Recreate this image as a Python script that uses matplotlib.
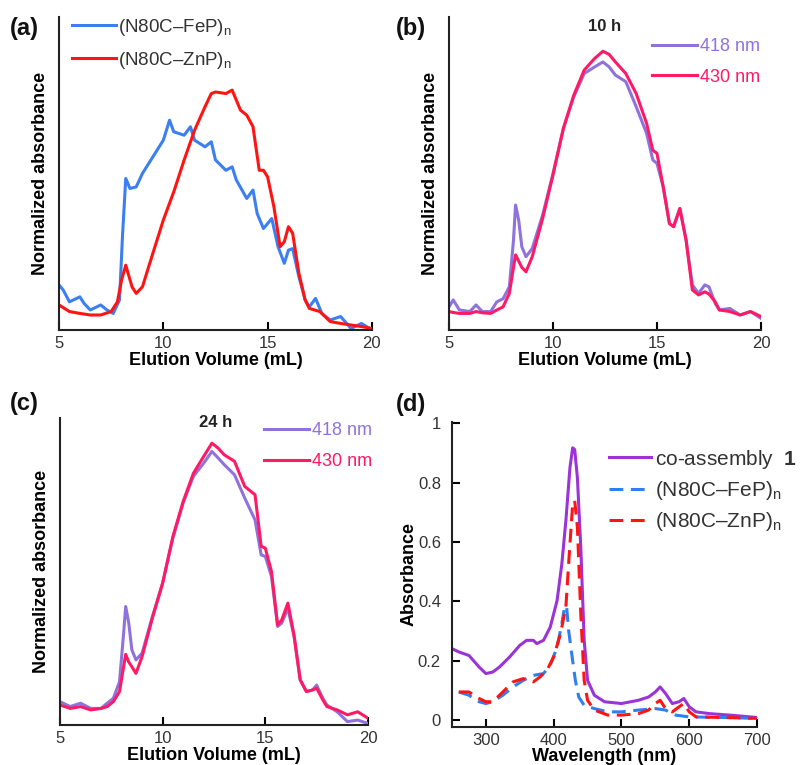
import matplotlib
matplotlib.use('Agg')
import matplotlib.pyplot as plt

plt.rcParams['font.family'] = ['Liberation Sans', 'DejaVu Sans']
plt.rcParams['mathtext.fontset'] = 'custom'
plt.rcParams['mathtext.rm'] = 'Liberation Sans'
plt.rcParams['mathtext.bf'] = 'Liberation Sans:bold'

# (a) SEC traces of the homo-assemblies
a_fe_x = [5.0, 5.2, 5.5, 6.0, 6.2, 6.5, 7.0, 7.3, 7.6, 7.9, 8.05, 8.2, 8.4, 8.7, 9.0, 9.5,
          10.0, 10.3, 10.5, 11.0, 11.3, 11.5, 12.0, 12.3, 12.5, 13.0, 13.3, 13.5, 14.0, 14.3,
          14.5, 14.8, 15.0, 15.2, 15.5, 15.8, 16.0, 16.2, 16.5, 16.8, 17.0, 17.3, 17.6, 18.0,
          18.5, 19.0, 19.5, 20.0]
a_fe_y = [0.144, 0.128, 0.09, 0.106, 0.085, 0.064, 0.08, 0.064, 0.053, 0.096, 0.309, 0.484,
          0.452, 0.457, 0.5, 0.553, 0.606, 0.67, 0.633, 0.622, 0.649, 0.606, 0.585, 0.601,
          0.543, 0.51, 0.521, 0.479, 0.42, 0.447, 0.372, 0.324, 0.34, 0.356, 0.266, 0.213,
          0.255, 0.26, 0.17, 0.096, 0.074, 0.101, 0.053, 0.032, 0.043, 0.005, 0.021, 0.0]
a_zn_x = [5.0, 5.5, 6.0, 6.5, 7.0, 7.5, 7.8, 8.0, 8.2, 8.5, 8.7, 9.0, 9.5, 10.0, 10.5, 11.0,
          11.5, 12.0, 12.3, 12.5, 13.0, 13.3, 13.7, 14.0, 14.3, 14.6, 14.8, 15.0, 15.3, 15.6,
          15.8, 16.0, 16.2, 16.5, 16.8, 17.0, 17.5, 18.0, 18.5, 19.0, 19.5, 20.0]
a_zn_y = [0.08, 0.059, 0.053, 0.048, 0.048, 0.059, 0.09, 0.16, 0.207, 0.138, 0.117, 0.138,
          0.245, 0.351, 0.441, 0.543, 0.638, 0.713, 0.755, 0.76, 0.755, 0.766, 0.702, 0.686,
          0.649, 0.51, 0.51, 0.489, 0.394, 0.266, 0.282, 0.33, 0.309, 0.181, 0.096, 0.069,
          0.059, 0.027, 0.021, 0.016, 0.011, 0.005]

# (b) 10 h co-assembly
b_x = [5.0, 5.2, 5.5, 6.0, 6.3, 6.6, 7.0, 7.3, 7.6, 7.9, 8.1, 8.2, 8.35, 8.5, 8.7, 9.0, 9.5,
       10.0, 10.5, 11.0, 11.5, 12.0, 12.4, 12.7, 13.0, 13.5, 14.0, 14.5, 14.8, 15.0, 15.3,
       15.6, 15.8, 16.1, 16.4, 16.7, 17.0, 17.3, 17.5, 17.8, 18.0, 18.5, 19.0, 19.5, 20.0]
b_418 = [0.074, 0.096, 0.064, 0.059, 0.08, 0.059, 0.059, 0.09, 0.1, 0.138, 0.287, 0.399,
         0.351, 0.266, 0.234, 0.26, 0.367, 0.5, 0.644, 0.745, 0.819, 0.84, 0.856, 0.84,
         0.814, 0.793, 0.713, 0.628, 0.543, 0.532, 0.457, 0.34, 0.33, 0.388, 0.287, 0.144,
         0.117, 0.144, 0.138, 0.085, 0.064, 0.069, 0.048, 0.059, 0.037]
b_430 = [0.059, 0.056, 0.053, 0.053, 0.059, 0.055, 0.053, 0.064, 0.074, 0.117, 0.2, 0.24,
         0.22, 0.2, 0.186, 0.234, 0.356, 0.495, 0.644, 0.75, 0.83, 0.867, 0.89, 0.88, 0.856,
         0.819, 0.755, 0.66, 0.574, 0.564, 0.457, 0.34, 0.33, 0.388, 0.287, 0.128, 0.112,
         0.122, 0.115, 0.09, 0.064, 0.059, 0.048, 0.059, 0.043]

# (c) 24 h co-assembly
c_x = [5.0, 5.5, 6.0, 6.5, 7.0, 7.3, 7.6, 7.9, 8.1, 8.2, 8.35, 8.5, 8.7, 9.0, 9.5, 10.0, 10.5,
       11.0, 11.5, 12.0, 12.4, 12.7, 13.0, 13.5, 14.0, 14.5, 14.8, 15.0, 15.3, 15.6, 15.8,
       16.1, 16.4, 16.7, 17.0, 17.3, 17.5, 17.8, 18.0, 18.5, 19.0, 19.5, 20.0]
c_418 = [0.076, 0.06, 0.071, 0.054, 0.054, 0.071, 0.087, 0.141, 0.299, 0.386, 0.332, 0.245,
         0.212, 0.234, 0.353, 0.462, 0.609, 0.723, 0.81, 0.853, 0.891, 0.87, 0.848, 0.815,
         0.739, 0.668, 0.554, 0.549, 0.484, 0.321, 0.332, 0.38, 0.288, 0.147, 0.109, 0.114,
         0.13, 0.087, 0.065, 0.043, 0.011, 0.016, 0.005]
c_430 = [0.065, 0.054, 0.06, 0.049, 0.054, 0.06, 0.076, 0.109, 0.19, 0.23, 0.205, 0.19,
         0.168, 0.223, 0.348, 0.462, 0.614, 0.728, 0.82, 0.875, 0.918, 0.902, 0.88, 0.859,
         0.777, 0.75, 0.582, 0.576, 0.5, 0.326, 0.342, 0.397, 0.293, 0.147, 0.109, 0.114,
         0.12, 0.082, 0.06, 0.049, 0.033, 0.043, 0.022]

# (d) UV-vis spectra
d_co_x = [250, 260, 275, 290, 300, 310, 320, 335, 350, 360, 370, 375, 385, 395, 405, 412,
          418, 424, 428, 431, 435, 440, 445, 450, 460, 475, 500, 525, 540, 550, 557, 565,
          575, 585, 592, 600, 610, 630, 660, 700]
d_co_y = [0.241, 0.23, 0.218, 0.179, 0.157, 0.162, 0.179, 0.213, 0.252, 0.269, 0.269, 0.258,
          0.269, 0.314, 0.403, 0.526, 0.672, 0.851, 0.918, 0.912, 0.817, 0.582, 0.269, 0.134,
          0.084, 0.062, 0.056, 0.067, 0.078, 0.095, 0.112, 0.09, 0.056, 0.062, 0.073, 0.045,
          0.028, 0.022, 0.017, 0.009]
d_fe_x = [260, 275, 290, 300, 310, 325, 340, 355, 370, 385, 395, 405, 412, 416, 419, 422,
          428, 432, 437, 445, 460, 480, 500, 525, 550, 565, 580, 600, 650, 700]
d_fe_y = [0.095, 0.084, 0.062, 0.056, 0.062, 0.084, 0.112, 0.134, 0.151, 0.157, 0.185, 0.246,
          0.325, 0.381, 0.385, 0.303, 0.2, 0.134, 0.078, 0.05, 0.039, 0.028, 0.028, 0.034,
          0.039, 0.034, 0.017, 0.011, 0.009, 0.006]
d_zn_x = [260, 275, 290, 300, 310, 325, 340, 355, 370, 380, 390, 400, 410, 418, 423, 428,
          431, 435, 440, 445, 450, 460, 480, 500, 525, 540, 550, 557, 565, 575, 585, 592,
          600, 610, 650, 700]
d_zn_y = [0.095, 0.095, 0.073, 0.062, 0.062, 0.095, 0.129, 0.14, 0.129, 0.146, 0.168, 0.213,
          0.291, 0.381, 0.56, 0.728, 0.74, 0.65, 0.358, 0.134, 0.067, 0.034, 0.017, 0.017,
          0.022, 0.034, 0.056, 0.067, 0.039, 0.028, 0.045, 0.056, 0.028, 0.011, 0.009, 0.006]

lab_fe = r'(N80C–FeP)$_\mathrm{n}$'
lab_zn = r'(N80C–ZnP)$_\mathrm{n}$'
tick_col = '#333333'
lw = 2.2

fig = plt.figure(figsize=(8.05, 7.65), dpi=100)
ax_a = fig.add_axes([0.0733, 0.5686, 0.3887, 0.4094])
ax_b = fig.add_axes([0.5578, 0.5686, 0.3875, 0.4094])
ax_c = fig.add_axes([0.0745, 0.0523, 0.3826, 0.4013])
ax_d = fig.add_axes([0.5615, 0.0497, 0.3789, 0.3987])


def style_sec(ax):
    ax.set_xlim(5, 20)
    ax.set_ylim(0, 1)
    ax.set_xticks([5, 10, 15, 20])
    ax.set_yticks([])
    ax.spines['top'].set_visible(False)
    ax.spines['right'].set_visible(False)
    for s in ['left', 'bottom']:
        ax.spines[s].set_linewidth(1.5)
        ax.spines[s].set_color('#222222')
    ax.tick_params(axis='x', direction='in', length=6, width=1.5, labelsize=12,
                   labelcolor=tick_col, pad=4)
    ax.set_xlabel('Elution Volume (mL)', fontsize=13, fontweight='bold', labelpad=1)
    ax.set_ylabel('Normalized absorbance', fontsize=13, fontweight='bold', labelpad=7)


# (a)
ax_a.plot(a_fe_x, a_fe_y, color='#3b7ff0', lw=lw, label=lab_fe)
ax_a.plot(a_zn_x, a_zn_y, color='#ff1414', lw=lw, label=lab_zn)
style_sec(ax_a)
ax_a.legend(loc='upper left', bbox_to_anchor=(0.09, 0.978), bbox_transform=fig.transFigure,
            frameon=False, fontsize=13.5, handlelength=2.3, handletextpad=0.15,
            labelspacing=0.65, borderpad=0, borderaxespad=0, labelcolor=tick_col)

# (b)
ax_b.plot(b_x, b_418, color='#8f72dc', lw=lw, label='418 nm')
ax_b.plot(b_x, b_430, color='#ff1a66', lw=lw, label='430 nm')
style_sec(ax_b)
ax_b.text(0.5, 0.968, '10 h', transform=ax_b.transAxes, fontsize=12, fontweight='bold',
          ha='center', va='center', color='#222222')
ax_b.legend(loc='upper left', bbox_to_anchor=(0.81, 0.95), bbox_transform=fig.transFigure,
            frameon=False, fontsize=13, handlelength=2.5, handletextpad=0.15,
            labelspacing=0.75, borderpad=0, borderaxespad=0, labelcolor='linecolor')

# (c)
ax_c.plot(c_x, c_418, color='#8f72dc', lw=lw, label='418 nm')
ax_c.plot(c_x, c_430, color='#ff1a66', lw=lw, label='430 nm')
style_sec(ax_c)
ax_c.text(0.505, 0.985, '24 h', transform=ax_c.transAxes, fontsize=12, fontweight='bold',
          ha='center', va='center', color='#222222')
ax_c.legend(loc='upper left', bbox_to_anchor=(0.328, 0.448), bbox_transform=fig.transFigure,
            frameon=False, fontsize=13, handlelength=2.5, handletextpad=0.15,
            labelspacing=0.75, borderpad=0, borderaxespad=0, labelcolor='linecolor')

# (d)
ax_d.plot(d_co_x, d_co_y, color='#9b34d6', lw=lw, label=r'co-assembly  $\mathbf{1}$')
ax_d.plot(d_fe_x, d_fe_y, color='#2f7ff2', lw=lw, ls=(0, (4.5, 2.5)), label=lab_fe)
ax_d.plot(d_zn_x, d_zn_y, color='#ff1414', lw=lw, ls=(0, (4.5, 2.5)), label=lab_zn)
ax_d.set_xlim(250, 700)
ax_d.set_ylim(-0.023, 1.005)
ax_d.set_xticks([300, 400, 500, 600, 700])
ax_d.set_yticks([0, 0.2, 0.4, 0.6, 0.8, 1])
ax_d.set_yticklabels(['0', '0.2', '0.4', '0.6', '0.8', '1'])
ax_d.spines['top'].set_visible(False)
ax_d.spines['right'].set_visible(False)
for s in ['left', 'bottom']:
    ax_d.spines[s].set_linewidth(1.5)
    ax_d.spines[s].set_color('#222222')
ax_d.tick_params(direction='in', length=6, width=1.5, labelsize=12, labelcolor=tick_col, pad=4)
ax_d.tick_params(axis='y', pad=8)
ax_d.set_xlabel('Wavelength (nm)', fontsize=13, fontweight='bold', labelpad=0)
ax_d.set_ylabel('Absorbance', fontsize=13, fontweight='bold', labelpad=0)
ax_d.legend(loc='upper left', bbox_to_anchor=(0.757, 0.415), bbox_transform=fig.transFigure,
            frameon=False, fontsize=15, handlelength=2.0, handletextpad=0.2,
            labelspacing=0.4, borderpad=0, borderaxespad=0, labelcolor=tick_col)

# panel letters
for txt, x, y in [('(a)', 0.012, 0.963), ('(b)', 0.492, 0.963),
                  ('(c)', 0.012, 0.473), ('(d)', 0.492, 0.471)]:
    fig.text(x, y, txt, fontsize=17, fontweight='bold', va='center', color='#111111')

fig.savefig('out.png', dpi=100)
